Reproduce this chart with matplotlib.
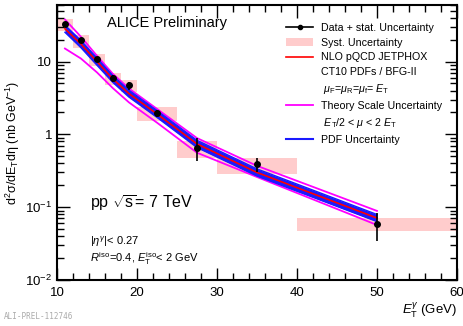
import numpy as np
import matplotlib
matplotlib.use("Agg")
import matplotlib.pyplot as plt
from matplotlib.patches import Rectangle, Patch
from matplotlib.lines import Line2D
from matplotlib.ticker import MultipleLocator, LogLocator, FixedLocator

plt.rcParams['font.family'] = ['Liberation Sans', 'DejaVu Sans']
plt.rcParams['mathtext.fontset'] = 'custom'
plt.rcParams['mathtext.rm'] = 'Liberation Sans'
plt.rcParams['mathtext.it'] = 'Liberation Sans:italic'
plt.rcParams['mathtext.bf'] = 'Liberation Sans:bold'

# measured points
et = [11, 13, 15, 17, 19, 22.5, 27.5, 35, 50]
bin_lo = [10, 12, 14, 16, 18, 20, 25, 30, 40]
bin_hi = [12, 14, 16, 18, 20, 25, 30, 40, 60]
xsec = [33, 20, 11, 5.9, 4.7, 1.95, 0.66, 0.39, 0.059]
stat = [1.5, 1.0, 0.6, 0.6, 0.6, 0.22, 0.23, 0.09, 0.025]
syst_up = [39, 23.5, 12.9, 6.9, 5.5, 2.34, 0.80, 0.48, 0.070]
syst_dn = [26, 15.5, 8.8, 4.8, 3.8, 1.51, 0.48, 0.29, 0.047]

# NLO JETPHOX theory
nlo = [28.2, 17.4, 10.0, 5.75, 3.63, 1.91, 0.74, 0.30, 0.071]
scale_up = [37.8, 21.9, 12.0, 6.76, 4.27, 2.24, 0.89, 0.37, 0.089]
scale_dn = [15.1, 11.0, 7.1, 4.3, 2.75, 1.45, 0.56, 0.26, 0.057]
pdf_up = [31.6, 19.5, 11.2, 6.4, 4.05, 2.13, 0.83, 0.336, 0.0795]
pdf_dn = [25.2, 15.5, 8.9, 5.15, 3.25, 1.71, 0.66, 0.268, 0.0635]

fig = plt.figure(figsize=(4.63, 3.26), dpi=100)
ax = fig.add_axes([0.123, 0.141, 0.864, 0.844])

pink = '#ffcccc'
for lo, hi, dn, up in zip(bin_lo, bin_hi, syst_dn, syst_up):
    ax.add_patch(Rectangle((lo, dn), hi - lo, up - dn, facecolor=pink,
                           edgecolor='none', zorder=1))

ax.plot(et, scale_up, color='#ff00ff', lw=1.3, zorder=2)
ax.plot(et, scale_dn, color='#ff00ff', lw=1.3, zorder=2)
ax.fill_between(et, pdf_dn, pdf_up, color='#1a1aff', lw=0, zorder=3)
ax.plot(et, pdf_up, color='#1a1aff', lw=1.0, zorder=3)
ax.plot(et, pdf_dn, color='#1a1aff', lw=1.0, zorder=3)
ax.plot(et, nlo, color='#ff0000', lw=1.2, zorder=4)

ax.errorbar(et, xsec, yerr=stat, fmt='o', color='black', ms=4,
            elinewidth=1.2, capsize=0, zorder=5)

ax.set_yscale('log')
ax.set_xlim(10, 60)
ax.set_ylim(0.01, 60)

ax.xaxis.set_major_locator(MultipleLocator(10))
ax.xaxis.set_minor_locator(MultipleLocator(2))
ax.yaxis.set_major_locator(FixedLocator([0.01, 0.1, 1, 10]))
ax.yaxis.set_minor_locator(LogLocator(base=10, subs=np.arange(2, 10)))
ax.set_yticklabels(['$10^{-2}$', '$10^{-1}$', '1', '10'])
ax.tick_params(which='both', direction='in', top=True, right=True,
               labelsize=9.5, width=1.0)
ax.tick_params(which='major', length=9)
ax.tick_params(which='minor', length=5)
ax.tick_params(axis='x', pad=5)
for s in ax.spines.values():
    s.set_linewidth(1.5)

ax.set_ylabel(r'd$^2$σ/d$\mathrm{E}_\mathrm{T}$dη (nb GeV$^{-1}$)',
              fontsize=9, labelpad=2)
ax.set_xlabel(r'$E_\mathrm{T}^{\gamma}$ (GeV)', fontsize=9.5, loc='right',
              labelpad=1)

ax.text(0.125, 0.92, 'ALICE Preliminary', transform=ax.transAxes,
        fontsize=10.5)
ax.text(0.083, 0.26, r'pp $\sqrt{\mathrm{s}}$= 7 TeV', transform=ax.transAxes,
        fontsize=11.5)
ax.text(0.083, 0.128, r'$|\eta^{\gamma}|$< 0.27', transform=ax.transAxes,
        fontsize=8)
ax.text(0.083, 0.066, r'$R^\mathrm{iso}$=0.4, $E_\mathrm{T}^\mathrm{iso}$< 2 GeV',
        transform=ax.transAxes, fontsize=8)

fig.text(0.008, 0.02, 'ALI-PREL-112746', fontsize=5.5, color='#aaaaaa',
         family='DejaVu Sans Mono')

blank = Line2D([], [], color='none')
handles = [
    Line2D([], [], color='black', marker='o', ms=3, lw=1.2),
    Patch(facecolor=pink, edgecolor='none'),
    Line2D([], [], color='#ff0000', lw=1.2),
    blank, blank,
    Line2D([], [], color='#ff00ff', lw=1.3),
    blank,
    Line2D([], [], color='#1a1aff', lw=1.5),
]
labels = [
    'Data + stat. Uncertainty',
    'Syst. Uncertainty',
    'NLO pQCD JETPHOX',
    'CT10 PDFs / BFG-II',
    r' $\mu_\mathrm{F}$=$\mu_\mathrm{R}$=$\mu_\mathrm{f}$= $E_\mathrm{T}$',
    'Theory Scale Uncertainty',
    r' $E_\mathrm{T}$/2 < $\mu$ < 2 $E_\mathrm{T}$',
    'PDF Uncertainty',
]
ax.legend(handles, labels, loc='upper left', bbox_to_anchor=(0.553, 0.962),
          frameon=False, fontsize=7.7, handlelength=2.6, handletextpad=0.75,
          labelspacing=0.45, borderpad=0.2)

fig.savefig('out.png', dpi=100)
